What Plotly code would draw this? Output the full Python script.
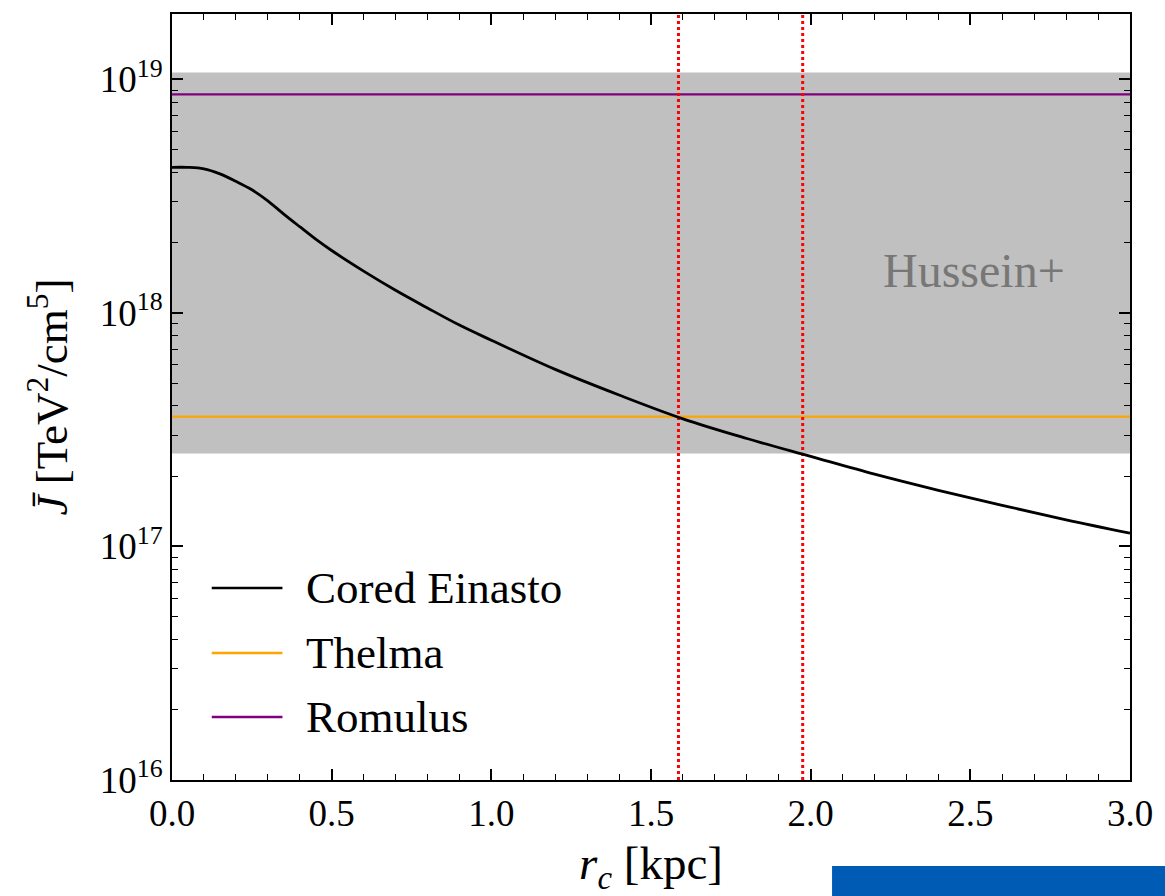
import plotly.graph_objects as go

# ---- data ----
r_c = [0.0, 0.05, 0.1, 0.15, 0.2, 0.25, 0.3, 0.35, 0.4, 0.45, 0.5, 0.6, 0.7,
       0.8, 0.9, 1.0, 1.2, 1.4, 1.6, 1.8, 2.0, 2.2, 2.4, 2.6, 2.8, 3.0]
J_cored = [4.20e18, 4.20e18, 4.14e18, 3.94e18, 3.66e18, 3.37e18, 3.02e18,
           2.65e18, 2.34e18, 2.07e18, 1.85e18, 1.51e18, 1.25e18, 1.05e18,
           8.87e17, 7.64e17, 5.73e17, 4.45e17, 3.52e17, 2.90e17, 2.43e17,
           2.04e17, 1.74e17, 1.50e17, 1.30e17, 1.14e17]
J_thelma = 3.6e17
J_romulus = 8.63e18
hussein_band = [2.5e17, 1.07e19]
r_marks = [1.586, 1.975]
x_range = [0.0, 3.0]
y_range_exp = [16, 19.28]
y_tick_exps = [16, 17, 18, 19]
x_ticks = [0.0, 0.5, 1.0, 1.5, 2.0, 2.5, 3.0]
legend_names = ["Cored Einasto", "Thelma", "Romulus"]
legend_colors = ["black", "#FFA500", "#800080"]

FONT = "Liberation Serif"
fig = go.Figure()

# gray band
fig.add_trace(go.Scatter(
    x=[x_range[0], x_range[1], x_range[1], x_range[0]],
    y=[hussein_band[0], hussein_band[0], hussein_band[1], hussein_band[1]],
    fill="toself", fillcolor="#C0C0C0", line=dict(width=0),
    mode="lines", showlegend=False, hoverinfo="skip", name="Hussein+"))

# horizontal lines
fig.add_trace(go.Scatter(x=x_range, y=[J_thelma, J_thelma], mode="lines",
                         line=dict(color=legend_colors[1], width=2.3),
                         name=legend_names[1], showlegend=False))
fig.add_trace(go.Scatter(x=x_range, y=[J_romulus, J_romulus], mode="lines",
                         line=dict(color=legend_colors[2], width=2.3),
                         name=legend_names[2], showlegend=False))

# vertical red dotted lines
for rm in r_marks:
    fig.add_trace(go.Scatter(x=[rm, rm], y=[10.0**y_range_exp[0], 10.0**y_range_exp[1]],
                             mode="lines", line=dict(color="#FF0000", width=3, dash="dot"),
                             showlegend=False, hoverinfo="skip"))

# main curve
fig.add_trace(go.Scatter(x=r_c, y=J_cored, mode="lines",
                         line=dict(color=legend_colors[0], width=2.8, shape="spline",
                                   smoothing=1.0),
                         name=legend_names[0], showlegend=False))

# minor ticks
y_minor = [float(m) * 10.0**e for e in range(y_range_exp[0], 20) for m in range(2, 10)]
x_minor = [i / 10 for i in range(0, 31)]

axis_common = dict(showline=True, linecolor="black", linewidth=2, mirror="allticks",
                   ticks="inside", ticklen=11, tickwidth=1.5, tickcolor="black",
                   showgrid=False, zeroline=False,
                   tickfont=dict(family=FONT, size=37, color="black"))

fig.update_xaxes(range=x_range, tickmode="array", tickvals=x_ticks,
                 ticktext=[f"{t:.1f}" for t in x_ticks],
                 minor=dict(tickmode="array", tickvals=x_minor, ticks="inside",
                            ticklen=6, tickwidth=1.2, tickcolor="black"),
                 title=dict(text="<i>r</i><sub><i>c</i></sub> [kpc]",
                            font=dict(family=FONT, size=47, color="black"), standoff=14),
                 **axis_common)
fig.update_yaxes(type="log", range=y_range_exp, tickmode="array",
                 tickvals=[10.0**e for e in y_tick_exps],
                 ticktext=[f"10<sup>{e}</sup>" for e in y_tick_exps],
                 minor=dict(tickmode="array", tickvals=y_minor, ticks="inside",
                            ticklen=6, tickwidth=1.2, tickcolor="black"),
                 title=dict(text="<i>J\u0304</i> [TeV<sup>2</sup>/cm<sup>5</sup>]",
                            font=dict(family=FONT, size=45, color="black"), standoff=18),
                 **axis_common)

# Hussein+ label
fig.add_annotation(x=2.51, y=18.18, xref="x", yref="y", text="Hussein+",
                   showarrow=False, font=dict(family=FONT, size=48, color="#777777"))

# manual legend
leg_y = [0.2507, 0.1658, 0.0822]
for name, col, yy in zip(legend_names, legend_colors, leg_y):
    fig.add_shape(type="line", xref="paper", yref="paper", x0=0.0415, x1=0.1153,
                  y0=yy, y1=yy, line=dict(color=col, width=2.6))
    fig.add_annotation(xref="paper", yref="paper", x=0.138, y=yy, text=name,
                       xanchor="left", yanchor="middle", showarrow=False,
                       font=dict(family=FONT, size=45, color="black"))

# blue box overlay in bottom-right corner
fig.add_shape(type="rect", xref="paper", yref="paper", x0=0.689, x1=1.04,
              y0=-0.17, y1=-0.1123, fillcolor="#005BB5", line=dict(width=0),
              layer="above")

fig.update_layout(width=1165, height=896, plot_bgcolor="white", paper_bgcolor="white",
                  margin=dict(l=172, r=25, t=14, b=116), showlegend=False)

fig.write_html("out.html")
